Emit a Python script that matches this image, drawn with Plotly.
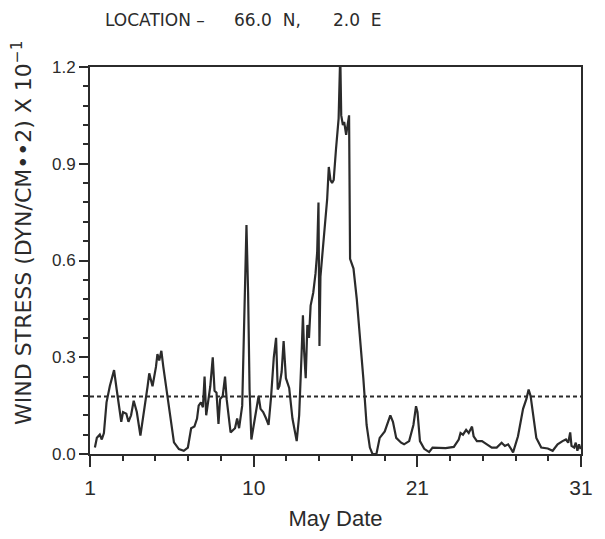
import plotly.graph_objects as go

# Wind stress time series (day of May, stress in dyn/cm^2 x 10^-1)
days = [
    1.30, 1.42, 1.60, 1.72, 1.85, 2.01, 2.21, 2.47, 2.63, 2.81, 2.91, 3.02, 3.22, 3.35, 3.51,
    3.67, 3.86, 4.08, 4.28, 4.52, 4.62, 4.72, 4.82, 5.03, 5.12, 5.23, 5.36, 5.48, 5.73, 5.97,
    6.13, 6.43, 6.73, 6.98, 7.10, 7.18, 7.38, 7.54, 7.64, 7.78, 7.90, 8.00, 8.10, 8.24, 8.35,
    8.50, 8.61, 8.73, 8.85, 8.95, 9.11, 9.25, 9.35, 9.59, 9.86, 9.99, 10.11, 10.30, 10.42, 10.56,
    10.66, 10.75, 10.86, 11.02, 11.16, 11.30, 11.42, 11.58, 11.76, 11.91, 12.06, 12.23, 12.37, 12.47, 12.57,
    12.71, 12.83, 12.97, 13.17, 13.37, 13.63, 13.78, 13.92, 14.01, 14.08, 14.18, 14.28, 14.38, 14.48, 14.64,
    14.78, 14.88, 14.96, 15.02, 15.08, 15.25, 15.38, 15.49, 15.59, 15.69, 15.79, 15.89, 16.03, 16.19, 16.29,
    16.35, 16.45, 16.53, 16.65, 16.75, 16.83, 16.89, 17.10, 17.30, 17.50, 17.70, 17.90, 18.10, 18.26, 18.50,
    18.70, 19.01, 19.35, 19.51, 19.71, 20.01, 20.19, 20.50, 20.76, 20.92, 21.01, 21.16, 21.42, 21.72, 21.93,
    22.31, 22.73, 23.23, 23.53, 23.64, 23.79, 23.98, 24.14, 24.34, 24.44, 24.64, 24.95, 25.25, 25.55, 25.85,
    26.15, 26.35, 26.55, 26.71, 26.85, 27.15, 27.46, 27.66, 27.80, 27.92, 28.06, 28.27, 28.57, 28.97, 29.27,
    29.57, 29.87, 30.08, 30.22, 30.34, 30.42, 30.58, 30.68, 30.78, 30.88, 30.98,
]
stress = [
    0.02, 0.05, 0.06, 0.045, 0.065, 0.16, 0.21, 0.26, 0.20, 0.13, 0.10, 0.13, 0.125, 0.10, 0.12,
    0.165, 0.13, 0.057, 0.12, 0.21, 0.25, 0.23, 0.21, 0.27, 0.31, 0.29, 0.32, 0.27, 0.18, 0.077,
    0.036, 0.015, 0.01, 0.02, 0.057, 0.08, 0.085, 0.11, 0.15, 0.16, 0.145, 0.24, 0.12, 0.17, 0.21,
    0.30, 0.196, 0.19, 0.093, 0.17, 0.18, 0.24, 0.17, 0.067, 0.08, 0.11, 0.08, 0.15, 0.40, 0.71,
    0.50, 0.20, 0.045, 0.09, 0.13, 0.18, 0.14, 0.13, 0.11, 0.09, 0.175, 0.30, 0.36, 0.20, 0.21,
    0.255, 0.35, 0.235, 0.205, 0.11, 0.04, 0.12, 0.30, 0.43, 0.32, 0.235, 0.40, 0.36, 0.46, 0.50,
    0.56, 0.625, 0.78, 0.335, 0.55, 0.655, 0.74, 0.79, 0.89, 0.85, 0.84, 0.85, 0.945, 1.04, 1.24,
    1.05, 1.02, 1.03, 0.99, 1.02, 1.05, 0.605, 0.575, 0.48, 0.37, 0.235, 0.09, 0.02, 0.0, 0.0,
    0.05, 0.07, 0.12, 0.10, 0.05, 0.035, 0.03, 0.04, 0.09, 0.148, 0.13, 0.04, 0.016, 0.006, 0.02,
    0.018, 0.018, 0.022, 0.045, 0.065, 0.06, 0.075, 0.065, 0.085, 0.055, 0.04, 0.04, 0.03, 0.02, 0.02,
    0.035, 0.025, 0.03, 0.017, 0.005, 0.055, 0.14, 0.17, 0.20, 0.18, 0.13, 0.05, 0.02, 0.017, 0.01,
    0.03, 0.04, 0.045, 0.035, 0.067, 0.025, 0.02, 0.035, 0.01, 0.03, 0.015,
]

# Monthly mean stress, drawn as a dashed reference line
mean_days = [1, 31]
mean_stress = [0.178, 0.178]

x_tick_vals = [1, 11, 21, 31]
x_tick_text = ["1", "10", "21", "31"]
y_tick_vals = [0.0, 0.3, 0.6, 0.9, 1.2]

# Station heading, split into its three parts with their paper x positions
location_parts = ["LOCATION \u2013", "66.0&nbsp;&nbsp;N,", "2.0&nbsp;&nbsp;E"]
location_x = [0.026, 0.29, 0.49]

ink = "#2b2b2b"
font = "Liberation Sans, Arial, sans-serif"

fig = go.Figure()
fig.add_trace(go.Scatter(
    x=days, y=stress, mode="lines",
    line=dict(color=ink, width=2.2),
    showlegend=False, hoverinfo="skip",
))
fig.add_trace(go.Scatter(
    x=mean_days, y=mean_stress, mode="lines",
    line=dict(color=ink, width=2, dash="4px,3px"),
    showlegend=False, hoverinfo="skip",
))

fig.update_layout(
    width=605, height=539,
    margin=dict(l=90, r=18, t=67, b=83),
    paper_bgcolor="white", plot_bgcolor="white",
    font=dict(family=font, color=ink),
)

fig.update_xaxes(
    range=[1, 31],
    tickvals=x_tick_vals, ticktext=x_tick_text,
    ticks="outside", ticklen=11, tickwidth=1.5, tickcolor=ink,
    minor=dict(dtick=2, tick0=1, ticks="outside", ticklen=5, tickwidth=1.5, tickcolor=ink),
    tickfont=dict(size=21, family=font, color=ink),
    ticklabelstandoff=3,
    showline=True, linecolor=ink, linewidth=2, mirror=True,
    showgrid=False, zeroline=False,
    title=dict(text="May Date", font=dict(size=22, family=font, color=ink), standoff=12),
)
fig.update_yaxes(
    range=[0, 1.2],
    tickvals=y_tick_vals, tickformat=".1f",
    ticks="outside", ticklen=9, tickwidth=1.5, tickcolor=ink,
    minor=dict(dtick=0.06, tick0=0, ticks="outside", ticklen=5, tickwidth=1.5, tickcolor=ink),
    tickfont=dict(size=17, family=font, color=ink),
    showline=True, linecolor=ink, linewidth=2, mirror=True,
    showgrid=False, zeroline=False,
)

fig.add_annotation(
    xref="paper", yref="paper", x=-0.14, y=0.572,
    text="WIND STRESS (DYN/CM\u2022\u20222) X 10<sup>\u22121</sup>",
    textangle=-90, showarrow=False,
    font=dict(size=22, family="DejaVu Sans, sans-serif", color=ink),
    xanchor="center", yanchor="middle",
)
for label, xpos in zip(location_parts, location_x):
    fig.add_annotation(
        xref="paper", yref="paper", x=xpos, y=1.121,
        text=label, showarrow=False,
        font=dict(size=17, family="DejaVu Sans, sans-serif", color=ink),
        xanchor="left", yanchor="middle",
    )

fig.write_html("out.html")
